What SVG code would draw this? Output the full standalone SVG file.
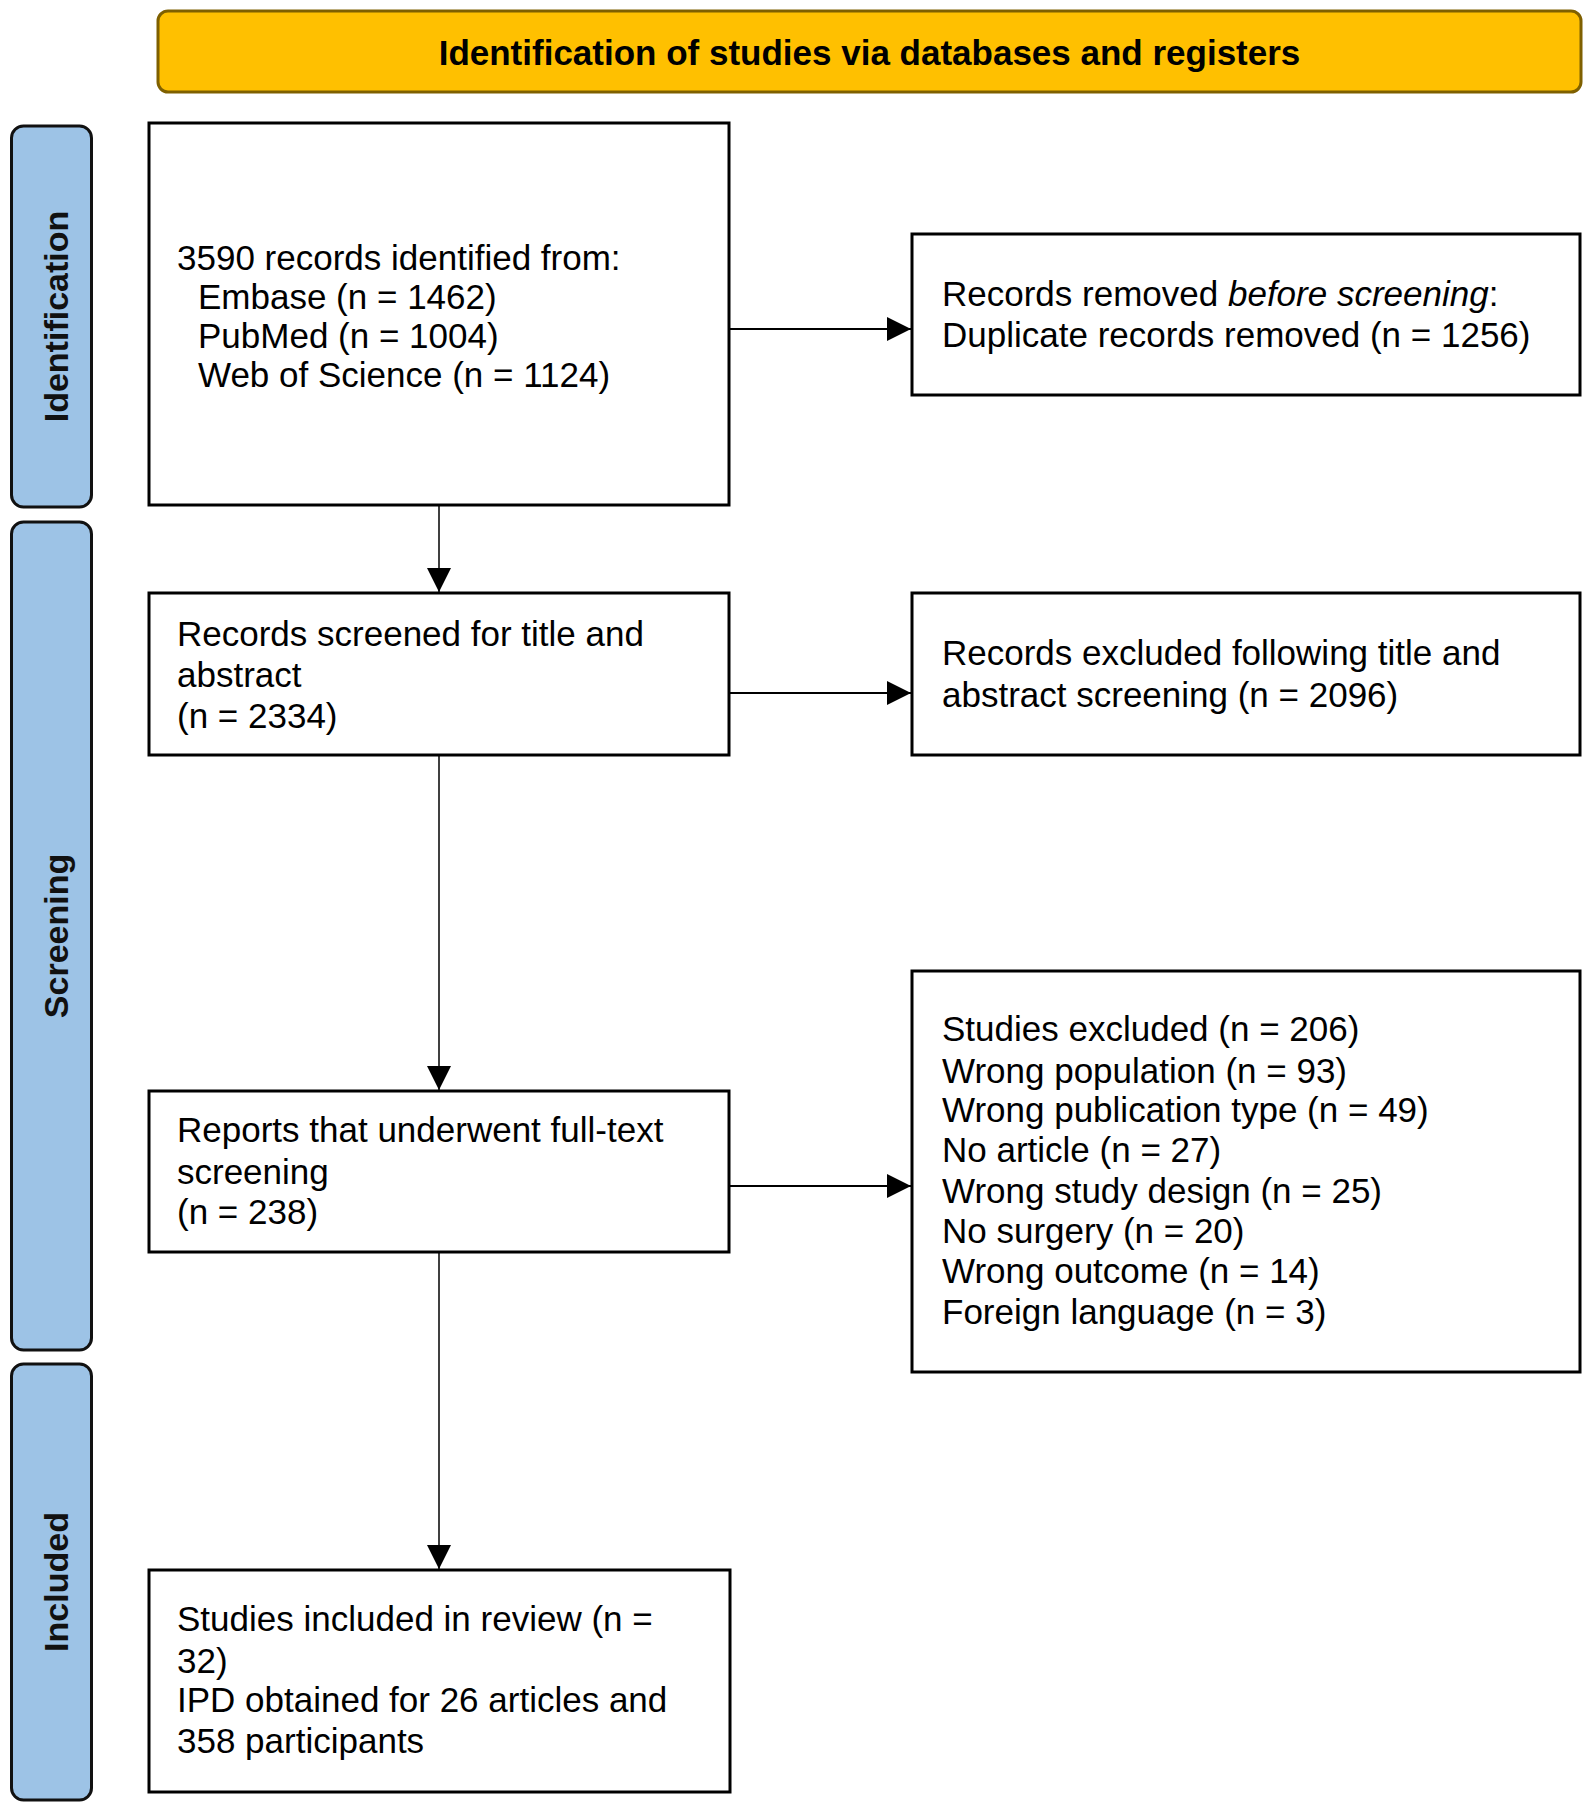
<svg xmlns="http://www.w3.org/2000/svg" width="1595" height="1814" viewBox="0 0 1595 1814">
<style>
.box{fill:#fff;stroke:#000;stroke-width:3}
.side{fill:#9DC3E6;stroke:#111;stroke-width:3}
.t{font-family:"Liberation Sans",Arial,sans-serif;font-size:35px;fill:#000}
.st{font-family:"Liberation Sans",Arial,sans-serif;font-size:34px;font-weight:bold;fill:#111;text-anchor:middle}
.ban{font-family:"Liberation Sans",Arial,sans-serif;font-size:35px;font-weight:bold;fill:#000;text-anchor:middle}
.h{stroke:#000;stroke-width:2;fill:none}
.v{stroke:#000;stroke-width:1.5;fill:none}
</style>
<defs>
<marker id="ah" viewBox="0 0 24 24" refX="24" refY="12" markerWidth="24" markerHeight="24" markerUnits="userSpaceOnUse" orient="auto">
<path d="M0,0 L24,12 L0,24 z" fill="#000"/>
</marker>
</defs>
<rect width="1595" height="1814" fill="#fff"/>

<g id="banner">
<rect x="158" y="11" width="1423" height="81" rx="10" fill="#FFC000" stroke="#7F6000" stroke-width="3"/>
<text class="ban" x="869.5" y="65">Identification of studies via databases and registers</text>
</g>

<g id="side-identification">
<rect class="side" x="11.5" y="126" width="80" height="381" rx="12"/>
<text class="st" transform="translate(68,316.5) rotate(-90)">Identification</text>
</g>
<g id="side-screening">
<rect class="side" x="11.5" y="522" width="80" height="828" rx="12"/>
<text class="st" transform="translate(68,936) rotate(-90)">Screening</text>
</g>
<g id="side-included">
<rect class="side" x="11.5" y="1364" width="80" height="436" rx="12"/>
<text class="st" transform="translate(68,1582) rotate(-90)">Included</text>
</g>

<g id="connectors">
<line class="h" x1="729" y1="329" x2="911" y2="329" marker-end="url(#ah)"/>
<line class="v" x1="439" y1="505" x2="439" y2="592" marker-end="url(#ah)"/>
<line class="h" x1="729" y1="693" x2="911" y2="693" marker-end="url(#ah)"/>
<line class="v" x1="439" y1="755" x2="439" y2="1090" marker-end="url(#ah)"/>
<line class="h" x1="729" y1="1186" x2="911" y2="1186" marker-end="url(#ah)"/>
<line class="v" x1="439" y1="1252" x2="439" y2="1569" marker-end="url(#ah)"/>
</g>

<g id="node-identified">
<rect class="box" x="149" y="123" width="580" height="382"/>
<text class="t" x="177" y="270">3590 records identified from:</text>
<text class="t" x="198" y="309">Embase (n = 1462)</text>
<text class="t" x="198" y="348">PubMed (n = 1004)</text>
<text class="t" x="198" y="387">Web of Science (n = 1124)</text>
</g>

<g id="node-removed">
<rect class="box" x="912" y="234" width="668" height="161"/>
<text class="t" x="942" y="306">Records removed <tspan font-style="italic">before screening</tspan>:</text>
<text class="t" x="942" y="347">Duplicate records removed (n = 1256)</text>
</g>

<g id="node-screened">
<rect class="box" x="149" y="593" width="580" height="162"/>
<text class="t" x="177" y="646">Records screened for title and</text>
<text class="t" x="177" y="687">abstract</text>
<text class="t" x="177" y="728">(n = 2334)</text>
</g>

<g id="node-excluded-title">
<rect class="box" x="912" y="593" width="668" height="162"/>
<text class="t" x="942" y="665">Records excluded following title and</text>
<text class="t" x="942" y="707">abstract screening (n = 2096)</text>
</g>

<g id="node-fulltext">
<rect class="box" x="149" y="1091" width="580" height="161"/>
<text class="t" x="177" y="1142">Reports that underwent full-text</text>
<text class="t" x="177" y="1184">screening</text>
<text class="t" x="177" y="1224">(n = 238)</text>
</g>

<g id="node-excluded-studies">
<rect class="box" x="912" y="971" width="668" height="401"/>
<text class="t" x="942" y="1041">Studies excluded (n = 206)</text>
<text class="t" x="942" y="1083">Wrong population (n = 93)</text>
<text class="t" x="942" y="1122">Wrong publication type (n = 49)</text>
<text class="t" x="942" y="1162">No article (n = 27)</text>
<text class="t" x="942" y="1203">Wrong study design (n = 25)</text>
<text class="t" x="942" y="1243">No surgery (n = 20)</text>
<text class="t" x="942" y="1283">Wrong outcome (n = 14)</text>
<text class="t" x="942" y="1324">Foreign language (n = 3)</text>
</g>

<g id="node-included">
<rect class="box" x="149" y="1570" width="581" height="222"/>
<text class="t" x="177" y="1631">Studies included in review (n =</text>
<text class="t" x="177" y="1673">32)</text>
<text class="t" x="177" y="1712">IPD obtained for 26 articles and</text>
<text class="t" x="177" y="1753">358 participants</text>
</g>
</svg>
